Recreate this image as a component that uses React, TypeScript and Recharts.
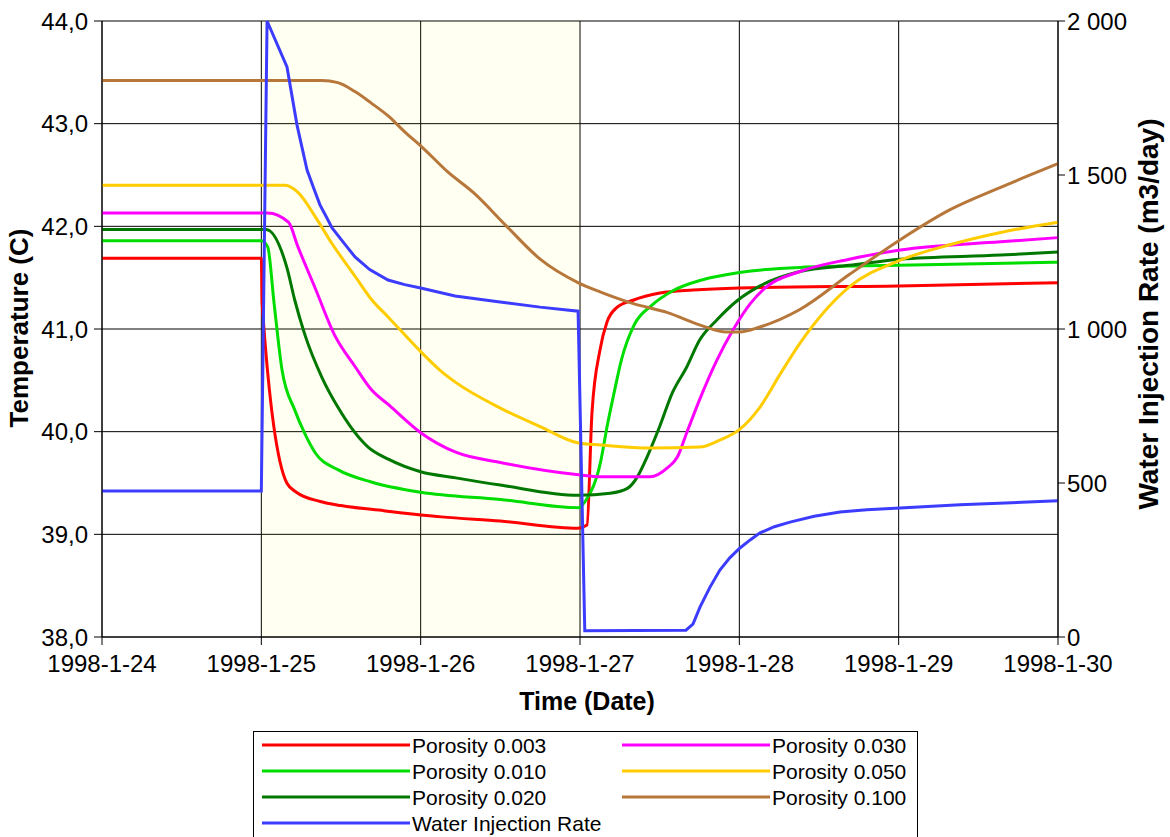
import React from 'react';
import { LineChart, Line, XAxis, YAxis, CartesianGrid, ReferenceArea, Label } from 'recharts';

// x values are days counted from 1998-1-24
const dateLabels = ['1998-1-24', '1998-1-25', '1998-1-26', '1998-1-27', '1998-1-28', '1998-1-29', '1998-1-30'];
const dayTicks = [0, 1, 2, 3, 4, 5, 6];
const tempTicks = [38, 39, 40, 41, 42, 43, 44];
const rateTicks = [0, 500, 1000, 1500, 2000];

// injection period (shaded)
const injectionStart = 1;
const injectionEnd = 3;

// [day, temperature C]
const porosity003 = [
  [0, 41.69], [1, 41.69], [1.005, 41.25], [1.16, 39.5], [1.22, 39.41], [1.37, 39.32], [1.5, 39.28],
  [1.77, 39.23], [2.13, 39.17], [2.5, 39.13], [2.988, 39.06], [3.044, 39.09], [3.075, 40.18],
  [3.126, 40.8], [3.17, 41.07], [3.232, 41.21], [3.333, 41.28], [3.502, 41.35], [3.709, 41.38],
  [4, 41.4], [5, 41.42], [6, 41.45],
];
const porosity010 = [
  [0, 41.86], [1, 41.86], [1.04, 41.8], [1.08, 41.25], [1.13, 40.6], [1.21, 40.21], [1.27, 39.99],
  [1.34, 39.79], [1.48, 39.63], [1.69, 39.51], [2, 39.41], [2.5, 39.34], [2.99, 39.26], [3.04, 39.34],
  [3.13, 39.71], [3.17, 40.05], [3.21, 40.35], [3.26, 40.7], [3.34, 41.04], [3.45, 41.23], [3.58, 41.37],
  [3.77, 41.48], [4, 41.55], [4.38, 41.6], [5, 41.62], [6, 41.65],
];
const porosity020 = [
  [0, 41.97], [1.03, 41.97], [1.16, 41.6], [1.21, 41.28], [1.27, 40.96], [1.38, 40.53], [1.48, 40.24],
  [1.67, 39.85], [1.8, 39.73], [2, 39.61], [2.22, 39.55], [2.5, 39.48], [2.99, 39.38], [3.19, 39.4],
  [3.3, 39.45], [3.36, 39.56], [3.42, 39.75], [3.5, 40.05], [3.58, 40.38], [3.67, 40.63], [3.75, 40.89],
  [3.86, 41.09], [3.99, 41.28], [4.13, 41.42], [4.38, 41.56], [4.69, 41.62], [5.01, 41.68],
  [5.64, 41.72], [6, 41.75],
];
const porosity030 = [
  [0, 42.13], [1.04, 42.13], [1.17, 42.04], [1.23, 41.8], [1.34, 41.39], [1.46, 40.94], [1.59, 40.63],
  [1.69, 40.41], [1.8, 40.26], [2, 39.99], [2.22, 39.8], [2.5, 39.7], [2.99, 39.58], [3.13, 39.56],
  [3.44, 39.56], [3.55, 39.65], [3.61, 39.75], [3.67, 39.99], [3.75, 40.31], [3.86, 40.7], [3.96, 40.99],
  [4.07, 41.25], [4.17, 41.41], [4.38, 41.56], [4.69, 41.68], [5.01, 41.77], [5.64, 41.85], [6, 41.89],
];
const porosity050 = [
  [0, 42.4], [1.15, 42.4], [1.23, 42.33], [1.34, 42.09], [1.44, 41.84], [1.59, 41.51], [1.69, 41.29],
  [1.8, 41.11], [2, 40.78], [2.12, 40.6], [2.22, 40.48], [2.5, 40.23], [2.75, 40.05], [2.99, 39.89],
  [3.13, 39.87], [3.44, 39.84], [3.75, 39.85], [3.88, 39.92], [4, 40.02], [4.13, 40.24], [4.26, 40.57],
  [4.38, 40.86], [4.69, 41.41], [5.01, 41.67], [5.32, 41.82], [5.64, 41.94], [6, 42.04],
];
const porosity100 = [
  [0, 43.42], [1.38, 43.42], [1.48, 43.4], [1.59, 43.31], [1.69, 43.2], [1.8, 43.07], [1.9, 42.92],
  [2.01, 42.77], [2.17, 42.53], [2.33, 42.33], [2.54, 42.0], [2.75, 41.68], [2.99, 41.45], [3.13, 41.36],
  [3.33, 41.25], [3.55, 41.16], [3.75, 41.04], [3.92, 40.97], [4, 40.97], [4.13, 41.02], [4.38, 41.19],
  [4.69, 41.53], [5.01, 41.87], [5.32, 42.16], [5.64, 42.38], [6, 42.61],
];
// [day, m3/day]
const injectionRate = [
  [0, 474], [1, 474], [1.036, 2000], [1.161, 1851], [1.224, 1662], [1.287, 1516], [1.33, 1455],
  [1.368, 1403], [1.41, 1362], [1.444, 1328], [1.52, 1278], [1.588, 1234], [1.68, 1193], [1.795, 1159],
  [1.9, 1144], [2, 1133], [2.216, 1107], [2.498, 1088], [2.749, 1071], [2.988, 1058], [3.03, 20],
  [3.665, 22], [3.709, 42], [3.753, 97], [3.816, 162], [3.879, 218], [3.94, 257], [4.004, 289],
  [4.07, 316], [4.13, 338], [4.22, 358], [4.318, 373], [4.47, 392], [4.632, 406], [4.8, 413],
  [5.008, 419], [5.385, 429], [6, 442],
];

const toPoints = (pairs: number[][]) => pairs.map(([d, v]) => ({ d, v }));

type Series = { name: string; pairs: number[][]; color: string; axis: string; curve: 'monotone' | 'linear' };

const SERIES: Series[] = [
  { name: 'Porosity 0.003', pairs: porosity003, color: '#ff0000', axis: 'temp', curve: 'monotone' },
  { name: 'Porosity 0.010', pairs: porosity010, color: '#00dd00', axis: 'temp', curve: 'monotone' },
  { name: 'Porosity 0.020', pairs: porosity020, color: '#007800', axis: 'temp', curve: 'monotone' },
  { name: 'Porosity 0.030', pairs: porosity030, color: '#ff00ff', axis: 'temp', curve: 'monotone' },
  { name: 'Porosity 0.050', pairs: porosity050, color: '#ffcc00', axis: 'temp', curve: 'monotone' },
  { name: 'Porosity 0.100', pairs: porosity100, color: '#b8773a', axis: 'temp', curve: 'monotone' },
  // sharp peak and drop, so no smoothing here
  { name: 'Water Injection Rate', pairs: injectionRate, color: '#3c3cff', axis: 'rate', curve: 'linear' },
];

// legend columns, top to bottom
const legendLeft = ['Porosity 0.003', 'Porosity 0.010', 'Porosity 0.020', 'Water Injection Rate'];
const legendRight = ['Porosity 0.030', 'Porosity 0.050', 'Porosity 0.100'];

const FONT = '"Liberation Sans", Arial, sans-serif';
const tickStyle = { fill: '#000', fontSize: 24, fontFamily: FONT };
const titleStyle = (size: number): React.CSSProperties => ({ fontSize: size, fontWeight: 700, fontFamily: FONT, fill: '#000' });

const fmtTemp = (v: number) => v.toFixed(1).replace('.', ',');
const fmtRate = (v: number) => String(v).replace(/\B(?=(\d{3})+(?!\d))/g, ' ');

const colorOf = (name: string) => SERIES.find((s) => s.name === name)!.color;

const ChartLegend = () => {
  const row = 26;
  const entry = (name: string, i: number, x0: number) => (
    <g key={name}>
      <line x1={x0} x2={x0 + 148} y1={14 + i * row} y2={14 + i * row} stroke={colorOf(name)} strokeWidth={3} />
      <text x={x0 + 150} y={14 + i * row} dy="0.36em" fontSize={21} fontFamily={FONT} fill="#000">
        {name}
      </text>
    </g>
  );
  return (
    <svg width={666} height={110} style={{ position: 'absolute', left: 253, top: 731 }}>
      <rect x={0.5} y={0.5} width={664} height={120} fill="#fff" stroke="#000" />
      {legendLeft.map((n, i) => entry(n, i, 9))}
      {legendRight.map((n, i) => entry(n, i, 369))}
    </svg>
  );
};

export default function App() {
  return (
    <div style={{ position: 'absolute', left: 0, top: 0, width: 1170, height: 837, background: '#fff', overflow: 'hidden' }}>
      <LineChart width={1170} height={837} margin={{ top: 21, right: 0, bottom: 160, left: 0 }}>
        <CartesianGrid stroke="#000" strokeWidth={1} yAxisId="temp" />
        <ReferenceArea x1={injectionStart} x2={injectionEnd} yAxisId="temp" fill="#ffff00" fillOpacity={0.05} stroke="none" />
        <XAxis
          dataKey="d"
          type="number"
          domain={[0, 6]}
          ticks={dayTicks}
          interval={0}
          tickFormatter={(d: number) => dateLabels[d]}
          tick={tickStyle}
          tickSize={8}
          tickMargin={10}
          stroke="#000"
          height={40}
          allowDuplicatedCategory={false}
        >
          <Label content={() => <text x={587} y={710} textAnchor="middle" style={titleStyle(25)}>Time (Date)</text>} />
        </XAxis>
        <YAxis
          yAxisId="temp"
          domain={[38, 44]}
          ticks={tempTicks}
          interval={0}
          tickFormatter={fmtTemp}
          tick={tickStyle}
          tickSize={8}
          tickMargin={6}
          stroke="#000"
          width={102}
        >
          <Label content={() => <text x={28} y={328} transform="rotate(-90, 28, 328)" textAnchor="middle" style={titleStyle(26)}>Temperature (C)</text>} />
        </YAxis>
        <YAxis
          yAxisId="rate"
          orientation="right"
          domain={[0, 2000]}
          ticks={rateTicks}
          interval={0}
          tickFormatter={fmtRate}
          tick={tickStyle}
          tickSize={7}
          tickMargin={2}
          stroke="#000"
          width={112}
        >
          <Label content={() => <text x={1158} y={314} transform="rotate(-90, 1158, 314)" textAnchor="middle" style={titleStyle(28)}>Water Injection Rate (m3/day)</text>} />
        </YAxis>
        {SERIES.map((s) => (
          <Line
            key={s.name}
            name={s.name}
            data={toPoints(s.pairs)}
            dataKey="v"
            yAxisId={s.axis}
            type={s.curve}
            stroke={s.color}
            strokeWidth={3}
            dot={false}
            activeDot={false}
            isAnimationActive={false}
          />
        ))}
      </LineChart>
      <ChartLegend />
    </div>
  );
}
